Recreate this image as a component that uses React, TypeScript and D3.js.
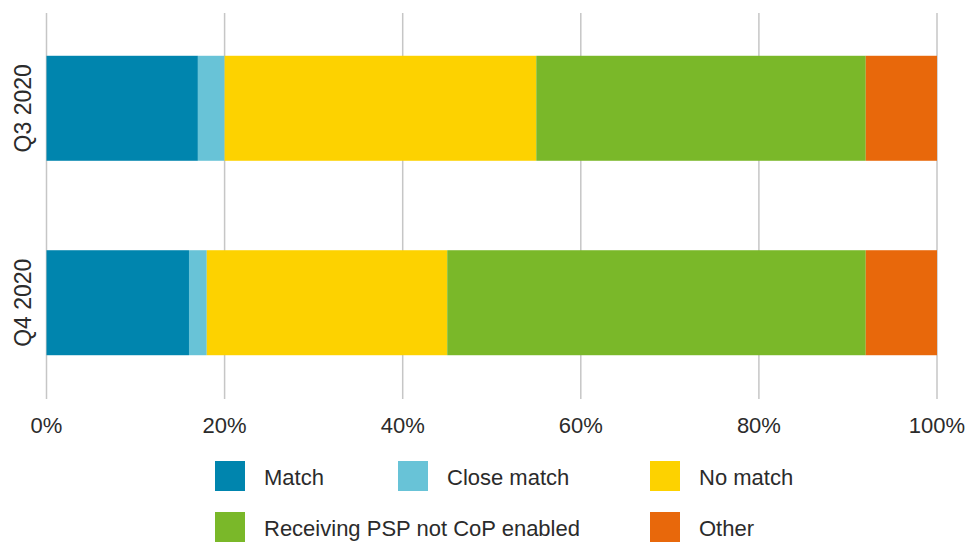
import * as d3 from 'd3';
import React, { useEffect, useRef } from 'react';

const periods = ['Q3 2020', 'Q4 2020'];
const seriesNames = ['Match', 'Close match', 'No match', 'Receiving PSP not CoP enabled', 'Other'];
const seriesColors = ['#0085ae', '#68c3d7', '#fdd200', '#7ab829', '#e8680b'];
const match = [17, 16];
const closeMatch = [3, 2];
const noMatch = [35, 27];
const notEnabled = [37, 47];
const other = [8, 8];
const tickValues = [0, 20, 40, 60, 80, 100];

function StackedBars() {
  const svgRef = useRef<SVGSVGElement>(null);

  useEffect(() => {
    const w = 970;
    const h = 542;
    const svg = d3.select(svgRef.current).attr('width', w).attr('height', h);
    svg.selectAll('*').remove();

    const rows = periods.map((p, i) => ({
      period: p,
      'Match': match[i],
      'Close match': closeMatch[i],
      'No match': noMatch[i],
      'Receiving PSP not CoP enabled': notEnabled[i],
      'Other': other[i],
    }));

    const x = d3.scaleLinear().domain([0, 100]).range([46.5, 937]);
    const y = d3
      .scaleBand()
      .domain(periods)
      .range([13, 398])
      .paddingInner(0.46)
      .paddingOuter(0.22);
    const color = d3.scaleOrdinal<string>().domain(seriesNames).range(seriesColors);

    const stack = d3.stack<any>().keys(seriesNames);
    const layers = stack(rows);

    // gridlines
    svg
      .append('g')
      .selectAll('line')
      .data(tickValues)
      .join('line')
      .attr('x1', (d) => x(d))
      .attr('x2', (d) => x(d))
      .attr('y1', 13)
      .attr('y2', 399)
      .attr('stroke', '#c6c6c6')
      .attr('stroke-width', 1.5);

    svg
      .append('g')
      .selectAll('g')
      .data(layers)
      .join('g')
      .attr('fill', (d) => color(d.key))
      .selectAll('rect')
      .data((d) => d)
      .join('rect')
      .attr('x', (d) => x(d[0]))
      .attr('width', (d) => x(d[1]) - x(d[0]))
      .attr('y', (d) => y(d.data.period)!)
      .attr('height', y.bandwidth());

    const font = "'Liberation Sans', Arial, sans-serif";

    // tick labels
    svg
      .append('g')
      .selectAll('text')
      .data(tickValues)
      .join('text')
      .attr('x', (d) => x(d))
      .attr('y', 433)
      .attr('text-anchor', 'middle')
      .attr('font-family', font)
      .attr('font-size', 22)
      .attr('fill', '#2b2b2b')
      .text((d) => d + '%');

    // category labels
    svg
      .append('g')
      .selectAll('text')
      .data(periods)
      .join('text')
      .attr('transform', (d) => `translate(31,${y(d)! + y.bandwidth() / 2}) rotate(-90)`)
      .attr('text-anchor', 'middle')
      .attr('font-family', font)
      .attr('font-size', 23)
      .attr('fill', '#2b2b2b')
      .text((d) => d);

    // legend
    const legendPos = [
      [215, 461],
      [398, 461],
      [650, 461],
      [215, 512],
      [650, 512],
    ];
    const legend = svg
      .append('g')
      .selectAll('g')
      .data(seriesNames)
      .join('g')
      .attr('transform', (d, i) => `translate(${legendPos[i][0]},${legendPos[i][1]})`);
    legend
      .append('rect')
      .attr('width', 30)
      .attr('height', 30)
      .attr('fill', (d) => color(d));
    legend
      .append('text')
      .attr('x', 49)
      .attr('y', 24)
      .attr('font-family', font)
      .attr('font-size', 22)
      .attr('fill', '#2b2b2b')
      .text((d) => d);
  }, []);

  return <svg ref={svgRef} style={{ position: 'absolute', left: 0, top: 0 }} />;
}

export default function App() {
  return <StackedBars />;
}
